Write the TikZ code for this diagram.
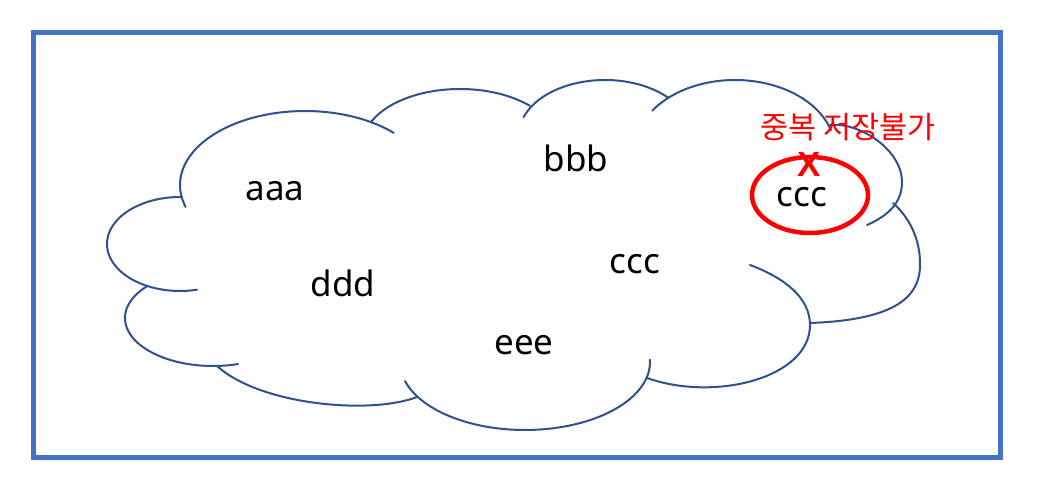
\documentclass[tikz,border=0pt]{standalone}
\usepackage{fontspec}
\setmainfont{Noto Sans}
\newfontfamily\kofont{Noto Sans CJK KR}
\newfontfamily\xfont{Liberation Sans}
\definecolor{frameblue}{RGB}{68,114,196}
\definecolor{cloudblue}{RGB}{47,82,143}
\definecolor{pured}{RGB}{255,0,0}
\begin{document}
\begin{tikzpicture}[x=1pt,y=-1pt,
  lobe/.style={draw=cloudblue,line width=2pt,line cap=round},
  word/.style={font=\fontsize{35}{40}\selectfont,inner sep=0pt,anchor=base},
  warn/.style={font=\kofont\fontsize{30.5}{34}\selectfont,text=pured,inner sep=0pt},
  cross/.style={font=\xfont\bfseries\fontsize{35}{40}\selectfont,text=pured,inner sep=0pt}]
\useasboundingbox (0,0) rectangle (1048,502);
\fill[white] (0,0) rectangle (1048,502);
% frame
\draw[frameblue,line width=5pt] (33.5,32.5) rectangle (1000.5,457);
% cloud lobes: elliptic arcs
\draw[lobe] plot[domain=162.8:315.2,samples=80,variable=\t] ({305+125*cos(\t)},{185+74*sin(\t)});
\draw[lobe] plot[domain=204.2:316.2,samples=60,variable=\t] ({460+97*cos(\t)},{144+55*sin(\t)});
\draw[lobe] plot[domain=198.9:317.4,samples=60,variable=\t] ({605+86*cos(\t)},{135+55*sin(\t)});
\draw[lobe] plot[domain=214.2:343.6,samples=60,variable=\t] ({735+100*cos(\t)},{150+70*sin(\t)});
\draw[lobe] plot[domain=-2:163.7,samples=80,variable=\t] ({525+125*cos(\t)},{362+68*sin(\t)});
\draw[lobe] plot[domain=73.5:222.4,samples=60,variable=\t] ({213+88*cos(\t)},{318+48*sin(\t)});
\draw[lobe] plot[domain=76.5:271.6,samples=60,variable=\t] ({180+73*cos(\t)},{244+47*sin(\t)});
% cloud lobes: curves
\draw[lobe] (830,125) .. controls (860,122) and (902,150) .. (902,182) .. controls (902,205) and (885,217) .. (867,225);
\draw[lobe] (893,203) .. controls (910,218) and (920,240) .. (920,263) .. controls (921,300) and (890,320) .. (810,323);
\draw[lobe] (750,265) .. controls (785,278) and (810,298) .. (810,325) .. controls (810,378) and (715,402) .. (647,378);
\draw[lobe] (217,366) .. controls (260,405) and (370,415) .. (417,397);
% texts
\node[word] (aaa) at (275,201) {aaa};
\node[word] (bbb) at (576,172) {bbb};
\node[word] (ddd) at (343,297) {ddd};
\node[word] (eee) at (524,354) {eee};
\node[word] (ccc1) at (635,274) {ccc};
\node[word] (ccc2) at (802,207) {ccc};
% red mark
\draw[pured,line width=4.5pt] (810,195) ellipse [x radius=58pt, y radius=38pt];
\node[cross] (x) at (809,164) {X};
\node[warn] (note) at (848,127) {중복 저장불가};
\end{tikzpicture}
\end{document}
